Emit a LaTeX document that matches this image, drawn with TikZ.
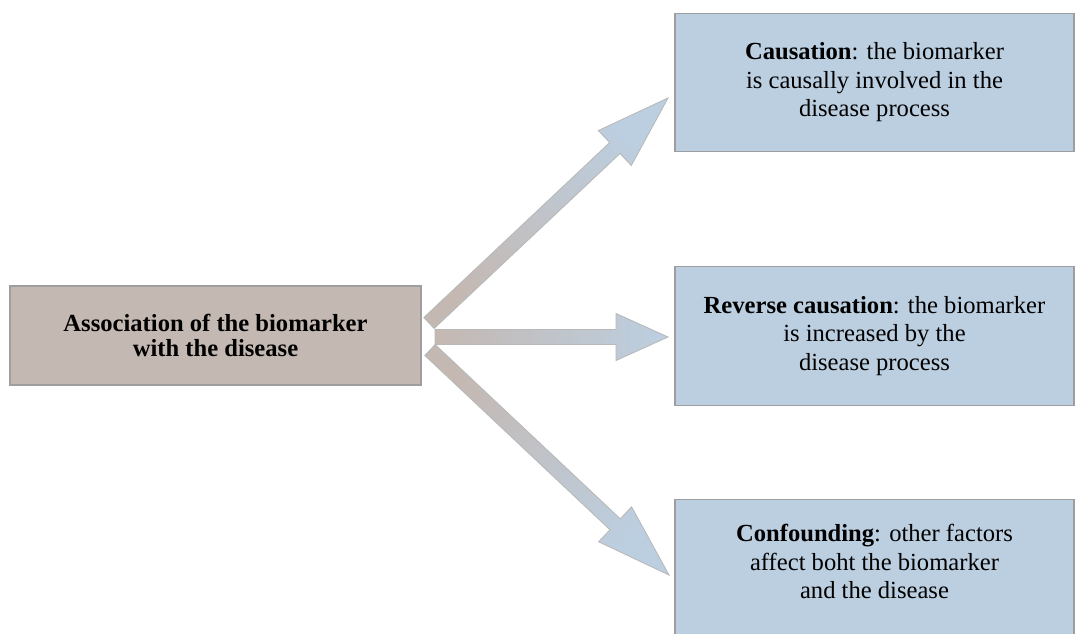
\documentclass[tikz,border=0pt]{standalone}
\usepackage{fontspec}
\setmainfont{Liberation Serif}
\usetikzlibrary{calc}
\definecolor{taupe}{RGB}{196,184,178}
\definecolor{paleblue}{RGB}{188,207,225}
\definecolor{boxline}{RGB}{158,158,160}

\begin{document}
\begin{tikzpicture}[
  font=\fontsize{14}{16.2}\selectfont,
  srcbox/.style={draw=boxline, line width=0.8pt, fill=taupe, align=center,
    minimum width=8.22cm, minimum height=1.98cm, inner sep=0pt},
  outbox/.style={draw=boxline, line width=0.8pt, fill=paleblue, align=center,
    minimum width=7.98cm, minimum height=2.77cm, inner sep=0pt},
  blockarr/.style={draw=gray!55, line width=0.5pt, bottom color=taupe, top color=paleblue}
]
\useasboundingbox (0,0) rectangle (21.5,12.66);
% ---------------- left: the observed association ----------------
\node[srcbox, font=\fontsize{14}{14.6}\selectfont\bfseries] (assoc) at (4.31,5.95)
  {Association of the biomarker\\with the disease};
% ---------------- right: three explanations ----------------
\node[outbox] (caus) at (17.49,11.01)
  {\textbf{Causation}: the biomarker\\is causally involved in the\\disease process};
\node[outbox] (rev) at (17.49,5.94)
  {\textbf{Reverse causation}: the biomarker\\is increased by the\\disease process};
\node[outbox, anchor=north, text depth=0.3cm] (conf) at (17.49,2.68)
  {\textbf{Confounding}: other factors\\affect boht the biomarker\\and the disease};
% ---------------- block arrows ----------------
\coordinate (s1) at (8.58,6.20);  \coordinate (t1) at (13.36,10.70);
\coordinate (s2) at (8.70,5.92);  \coordinate (t2) at (13.36,5.92);
\coordinate (s3) at (8.60,5.66);  \coordinate (t3) at (13.38,1.16);
\foreach \i/\hl/\hw/\ang in {1/1.46cm/0.48cm/-47, 2/1.04cm/0.47cm/-90, 3/1.48cm/0.48cm/-133}{
  \coordinate (h\i) at ($(t\i)!\hl!(s\i)$);
  \shade[blockarr, shading angle=\ang]
    ($(s\i)!0.15cm!90:(t\i)$) -- ($(h\i)!0.15cm!90:(t\i)$) -- ($(h\i)!\hw!90:(t\i)$) -- (t\i)
    -- ($(h\i)!\hw!-90:(t\i)$) -- ($(h\i)!0.15cm!-90:(t\i)$) -- ($(s\i)!0.15cm!-90:(t\i)$) -- cycle;
}
\end{tikzpicture}
\end{document}
